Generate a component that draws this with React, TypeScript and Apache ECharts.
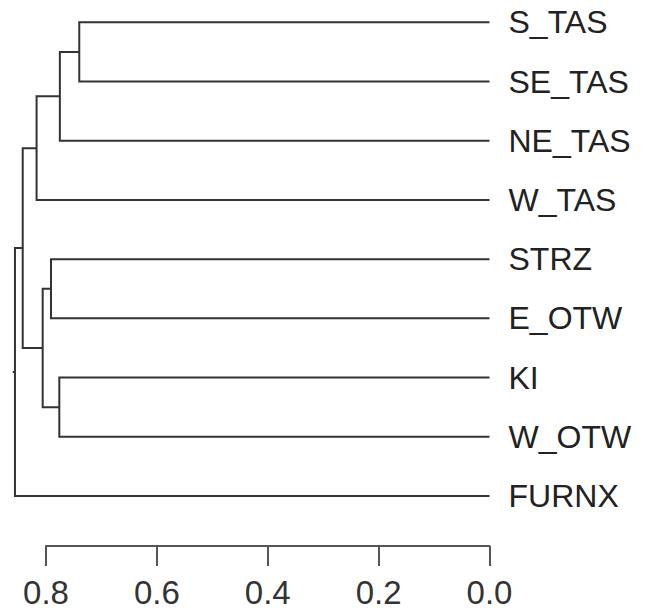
import React, { useEffect, useRef } from "react";
import * as echarts from "echarts";

// Leaves in plotting order (top to bottom)
const leaves = ["S_TAS", "SE_TAS", "NE_TAS", "W_TAS", "STRZ", "E_OTW", "KI", "W_OTW", "FURNX"];
// Merges: negative = leaf index (-(i+1)), positive = merge number (1-based), with height
const mergeLeft = [-1, -7, 1, -5, 4, 3, 6, 7];
const mergeRight = [-2, -8, -3, -6, 2, -4, 5, -9];
const mergeHeight = [0.740, 0.776, 0.775, 0.791, 0.806, 0.817, 0.842, 0.856];
const rootStub = 0.004;
const xTicks = [0, 0.2, 0.4, 0.6, 0.8];

type Seg = [number, number, number, number, number];

function buildSegments(): Seg[] {
  const pos: number[] = [];
  const hts: number[] = [];
  const segs: Seg[] = [];
  const getNode = (id: number): [number, number] => {
    if (id < 0) return [-id - 1, 0];
    return [pos[id - 1], hts[id - 1]];
  };
  for (let i = 0; i < mergeHeight.length; i++) {
    const [yA, hA] = getNode(mergeLeft[i]);
    const [yB, hB] = getNode(mergeRight[i]);
    const h = mergeHeight[i];
    pos.push((yA + yB) / 2);
    hts.push(h);
    segs.push([h, yA, yB, hA, hB]);
  }
  return segs;
}

export default function App() {
  const ref = useRef<HTMLDivElement>(null);
  useEffect(() => {
    if (!ref.current) return;
    const chart = echarts.init(ref.current, undefined, { renderer: "svg" });
    const segs = buildSegments();
    const rootY = (segs[segs.length - 1][1] + segs[segs.length - 1][2]) / 2;
    const rootH = mergeHeight[mergeHeight.length - 1];
    const lineStyle = { stroke: "#333", lineWidth: 2, fill: null };
    const font = "'Liberation Sans', Arial, sans-serif";
    chart.setOption({
      animation: false,
      grid: { left: 46, right: 171.5, top: 22.3, height: 473.7, containLabel: false },
      xAxis: {
        type: "value",
        inverse: true,
        min: 0,
        max: 0.8,
        interval: 0.2,
        position: "bottom",
        offset: 50,
        splitLine: { show: false },
        axisLine: { show: true, onZero: false, lineStyle: { color: "#555", width: 2 } },
        axisTick: { show: true, length: 20, lineStyle: { color: "#555", width: 2 } },
        axisLabel: {
          fontSize: 33,
          color: "#333",
          fontFamily: font,
          margin: 30,
          formatter: (v: number) => v.toFixed(1),
        },
      },
      yAxis: {
        type: "value",
        inverse: true,
        min: 0,
        max: leaves.length - 1,
        interval: 1,
        position: "right",
        splitLine: { show: false },
        axisLine: { show: false },
        axisTick: { show: false },
        axisLabel: {
          fontSize: 32,
          color: "#222",
          fontFamily: font,
          margin: 19,
          padding: [5, 0, 0, 0],
          formatter: (v: number) => leaves[Math.round(v)] ?? "",
        },
      },
      series: [
        {
          type: "custom",
          clip: false,
          data: segs,
          renderItem: (params: any, api: any) => {
            const h = api.value(0);
            const yA = api.value(1);
            const yB = api.value(2);
            const hA = api.value(3);
            const hB = api.value(4);
            const p1 = api.coord([hA, yA]);
            const p2 = api.coord([h, yA]);
            const p3 = api.coord([h, yB]);
            const p4 = api.coord([hB, yB]);
            return {
              type: "polyline",
              shape: { points: [p1, p2, p3, p4] },
              style: lineStyle,
            };
          },
        },
        {
          type: "custom",
          clip: false,
          data: [[rootH, rootY, rootStub]],
          renderItem: (params: any, api: any) => {
            const h = api.value(0);
            const y = api.value(1);
            const s = api.value(2);
            const a = api.coord([h, y]);
            const b = api.coord([h + s, y]);
            return {
              type: "line",
              shape: { x1: a[0], y1: a[1], x2: b[0], y2: b[1] },
              style: { stroke: "#333", lineWidth: 2 },
            };
          },
        },
      ],
    });
    return () => chart.dispose();
  }, []);
  return (
    <div
      ref={ref}
      style={{ position: "fixed", left: 0, top: 0, width: 661, height: 611, background: "#fff" }}
    />
  );
}
